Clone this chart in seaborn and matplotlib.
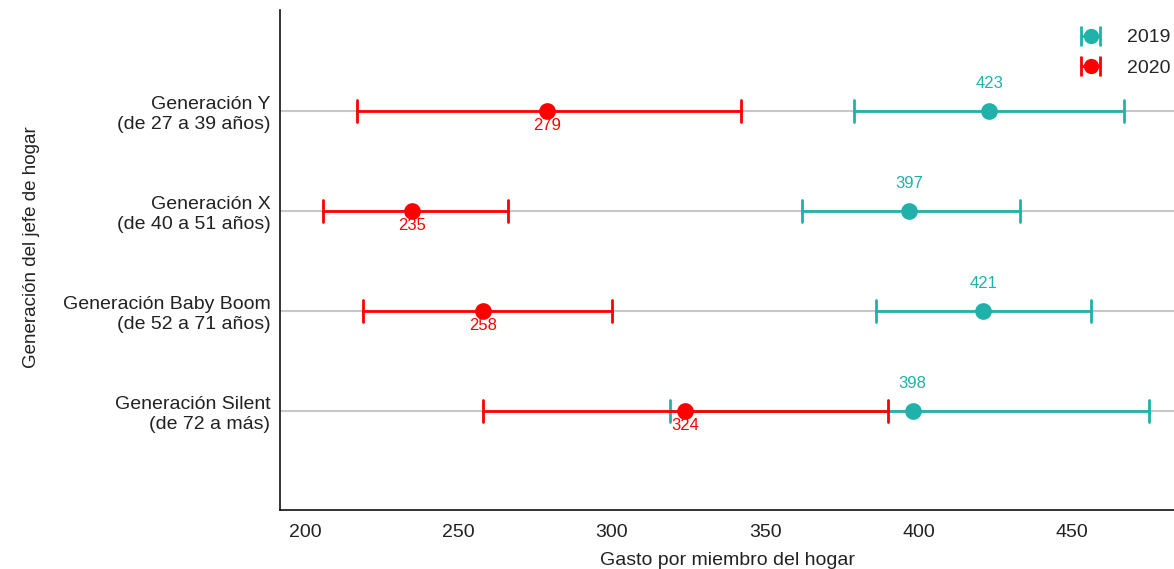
import pandas as pd
import matplotlib.pyplot as plt
import seaborn as sns
from matplotlib.lines import Line2D
from matplotlib.collections import LineCollection
from matplotlib.container import ErrorbarContainer

# Datos: gasto por miembro del hogar (punto e intervalo) por generación
generaciones = ['Generación Y\n(de 27 a 39 años)',
                'Generación X\n(de 40 a 51 años)',
                'Generación Baby Boom\n(de 52 a 71 años)',
                'Generación Silent\n(de 72 a más)']
anios = ['2019', '2020']
medio_2019 = [423, 397, 421, 398]
bajo_2019 = [379, 362, 386, 319]
alto_2019 = [467, 433, 456, 475]
medio_2020 = [279, 235, 258, 324]
bajo_2020 = [217, 206, 219, 258]
alto_2020 = [342, 266, 300, 390]

colores = {'2019': '#20B2AA', '2020': '#FF0000'}

filas = []
for anio, bajo, medio, alto in [('2019', bajo_2019, medio_2019, alto_2019),
                                ('2020', bajo_2020, medio_2020, alto_2020)]:
    for g, b, m, a in zip(generaciones, bajo, medio, alto):
        for v in (b, m, a):
            filas.append({'Generacion': g, 'Anio': anio, 'Gasto': v})
df = pd.DataFrame(filas)

sns.set_style('white')
plt.rcParams['font.family'] = ['Liberation Sans', 'DejaVu Sans']

fig = plt.figure(figsize=(11.74, 5.69), dpi=100)
ax = fig.add_axes([280 / 1174, 1 - 510 / 569, 1 - 280 / 1174, 500 / 569])

for i in range(len(generaciones)):
    ax.axhline(i, color='#C8C8C8', lw=1.5, zorder=0)

sns.pointplot(data=df, x='Gasto', y='Generacion', hue='Anio', hue_order=anios,
              order=generaciones, palette=colores, estimator='median',
              errorbar=('pi', 100), capsize=0.22, linestyle='none',
              markersize=10, err_kws={'linewidth': 2}, dodge=False,
              orient='h', ax=ax, legend=False)

# Etiquetas de valores
for i, v in enumerate(medio_2019):
    ax.text(v, i - 0.27, str(v), color=colores['2019'], ha='center', va='center', fontsize=12)
for i, v in enumerate(medio_2020):
    ax.text(v, i + 0.14, str(v), color=colores['2020'], ha='center', va='center', fontsize=12)

ax.set_xlim(191.85, 483.2)
ax.set_ylim(3.99, -1.01)
ax.set_xticks([200, 250, 300, 350, 400, 450])
ax.tick_params(axis='both', length=0, labelsize=14, colors='#222222')
ax.tick_params(axis='x', pad=10)
ax.tick_params(axis='y', pad=7)
ax.set_xlabel('Gasto por miembro del hogar', fontsize=14, color='#222222', labelpad=8)
ax.set_ylabel('Generación del jefe de hogar', fontsize=13.5, color='#222222')
ax.yaxis.set_label_coords(-0.268, 0.525)
sns.despine(ax=ax)
for s in ('left', 'bottom'):
    ax.spines[s].set_color('#111111')
    ax.spines[s].set_linewidth(1.2)

# Leyenda con forma de barra de error
handles = []
for anio in anios:
    c = colores[anio]
    h = ErrorbarContainer(
        (Line2D([], [], color=c, marker='o', markersize=10, ls='none'),
         (Line2D([], [], color=c, marker='|', markersize=15, mew=2, ls='none'),
          Line2D([], [], color=c, marker='|', markersize=15, mew=2, ls='none')),
         (LineCollection([], colors=c, linewidths=2),)),
        has_xerr=True, has_yerr=False)
    handles.append(h)
ax.legend(handles, anios, loc='upper right', bbox_to_anchor=(1.0, 0.97), frameon=False,
          fontsize=14, handlelength=1.1, handletextpad=1.3, labelspacing=0.65,
          borderaxespad=0, borderpad=0.2)

fig.savefig('out.png', dpi=100)
